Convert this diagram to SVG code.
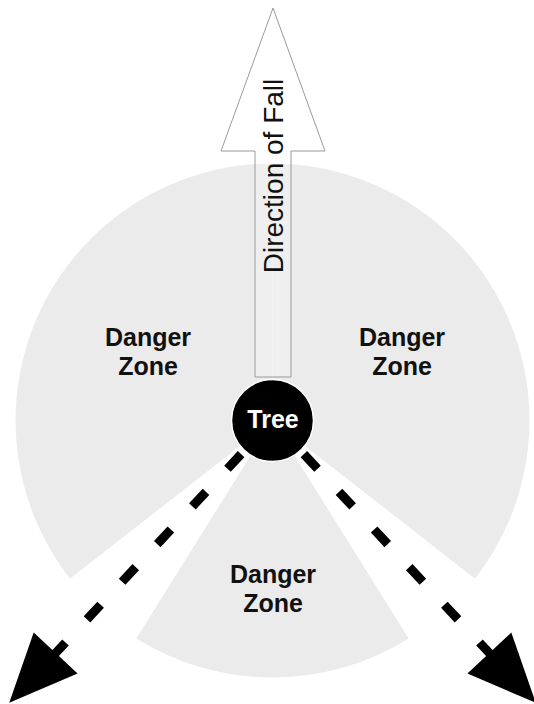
<svg xmlns="http://www.w3.org/2000/svg" width="534" height="704" viewBox="0 0 534 704">
<style>
.zone{fill:#ebebeb;stroke:none}
.lbl{font-family:"Liberation Sans",Arial,Helvetica,sans-serif;font-weight:bold;font-size:25px;fill:#111;text-anchor:middle}
.dash{stroke:#000;stroke-width:9;stroke-dasharray:20 31.5;fill:none}
.head{fill:#000}
</style>
<rect x="0" y="0" width="534" height="704" fill="#fff"/>
<g id="zone-left">
<path class="zone" d="M272.5,420.5 L70.0,578.7 A257,257 0 0 1 272.5,163.5 Z"/>
<text class="lbl" x="148" y="346">Danger</text>
<text class="lbl" x="148" y="375">Zone</text>
</g>
<g id="zone-right">
<path class="zone" d="M272.5,420.5 L272.5,163.5 A257,257 0 0 1 475.0,578.7 Z"/>
<text class="lbl" x="402" y="346">Danger</text>
<text class="lbl" x="402" y="375">Zone</text>
</g>
<g id="zone-bottom">
<path class="zone" d="M272.5,420.5 L408.7,638.4 A257,257 0 0 1 136.3,638.4 Z"/>
<text class="lbl" x="273" y="583">Danger</text>
<text class="lbl" x="273" y="612">Zone</text>
</g>
<g id="direction-of-fall">
<polygon points="273,8 325,151 291,151 291,377 255,377 255,151 221,151" fill="#fff" fill-opacity="0.2" stroke="#9a9a9a" stroke-width="1"/>
<text transform="translate(283 176) rotate(-90)" font-family="'Liberation Sans',Arial,Helvetica,sans-serif" font-size="28" fill="#111" text-anchor="middle">Direction of Fall</text>
</g>
<g id="connectors">
<g transform="translate(272.5 420.5) rotate(133)">
<line class="dash" x1="46" y1="0" x2="320" y2="0"/>
<polygon class="head" points="386,0 318,-30 318,30"/>
</g>
<g transform="translate(272.5 420.5) rotate(47)">
<line class="dash" x1="46" y1="0" x2="320" y2="0"/>
<polygon class="head" points="386,0 318,-30 318,30"/>
</g>
</g>
<g id="tree">
<circle cx="272.5" cy="420.5" r="41" fill="#000" stroke="#fff" stroke-width="1.5"/>
<text x="273" y="428" font-family="'Liberation Sans',Arial,Helvetica,sans-serif" font-weight="bold" font-size="25" fill="#fff" text-anchor="middle">Tree</text>
</g>
</svg>
